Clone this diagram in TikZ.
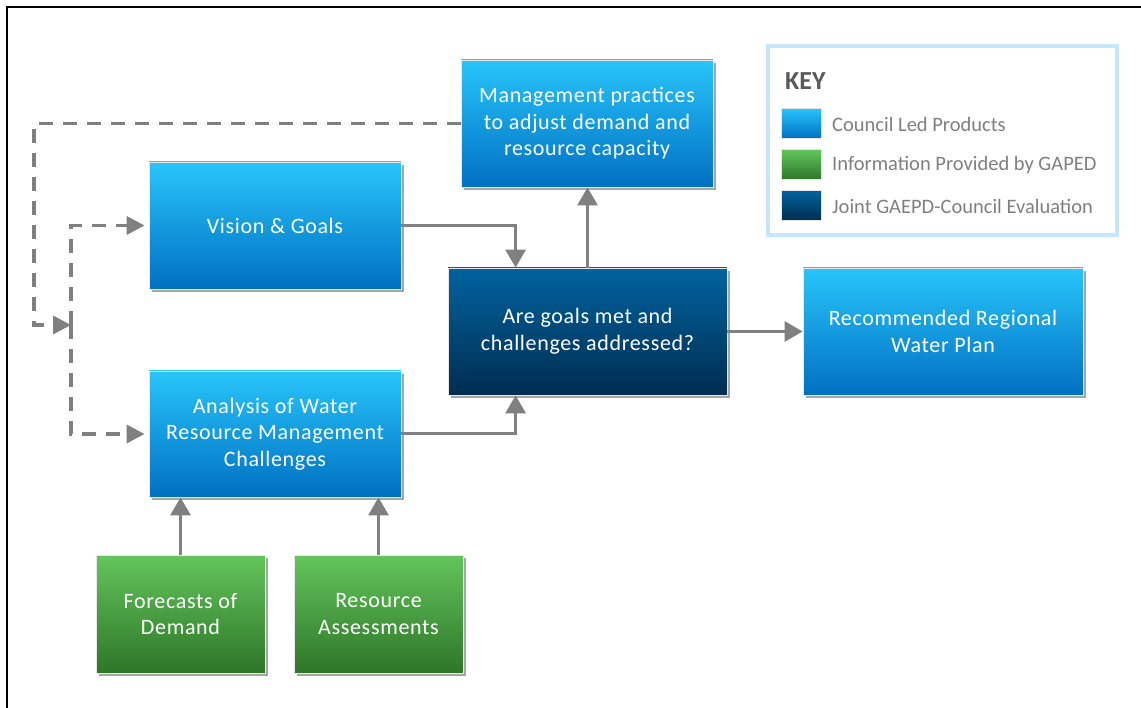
\documentclass[tikz,border=0pt]{standalone}
\usepackage{fontspec}
\setmainfont{Carlito}
\newfontfamily\boxfont[LetterSpace=3]{Carlito}
\usetikzlibrary{arrows.meta,shadows,calc}
\definecolor{lbTop}{HTML}{28C5FA}
\definecolor{lbBot}{HTML}{0070C2}
\definecolor{gnTop}{HTML}{63C55B}
\definecolor{gnBot}{HTML}{2E7628}
\definecolor{dkTop}{HTML}{00639F}
\definecolor{dkBot}{HTML}{002D50}
\definecolor{arrGray}{HTML}{808080}
\definecolor{keyFrame}{HTML}{C6E7FA}
\definecolor{keyText}{HTML}{7F7F7F}
\definecolor{keyHead}{HTML}{595959}
\tikzset{
  boxbase/.style={draw=white!82!gray, line width=0.8pt, text=white, align=center,
    font=\boxfont\fontsize{22}{26.5}\selectfont, inner sep=0pt,
    drop shadow={shadow xshift=2.5pt, shadow yshift=-3pt, opacity=0.35, fill=black}},
  council/.style={boxbase, top color=lbTop, bottom color=lbBot},
  info/.style={boxbase, top color=gnTop, bottom color=gnBot},
  joint/.style={boxbase, top color=dkTop, bottom color=dkBot},
  arr/.style={draw=arrGray, line width=3pt, -{Triangle[width=20pt,length=18pt]}},
  darr/.style={draw=arrGray, line width=3.5pt, dash pattern=on 14pt off 10pt,
    -{Triangle[width=18pt,length=18pt]}},
  swatch/.style={draw=white!80!gray, line width=0.6pt, minimum width=40pt, minimum height=30pt, inner sep=0pt},
  keylabel/.style={text=keyText, anchor=west, font=\fontsize{20.5}{22}\selectfont, inner sep=0pt}
}
\begin{document}
\begin{tikzpicture}[x=1pt,y=-1pt]
\useasboundingbox (0,0) rectangle (1141,708);
% frame
\draw[black, line width=2pt] (7,708) -- (7,7) -- (1141,7);
% boxes
\node[council, minimum width=252pt, minimum height=127pt] (mgmt) at (587,123.5)
  {Management practices\\to adjust demand and\\resource capacity};
\node[council, minimum width=252pt, minimum height=127pt] (vision) at (275,225.5)
  {Vision \& Goals};
\node[council, minimum width=252pt, minimum height=126pt] (analysis) at (275,434)
  {Analysis of Water\\Resource Management\\Challenges};
\node[joint, minimum width=279pt, minimum height=127pt] (are) at (587.5,331.5)
  {Are goals met and\\challenges addressed?};
\node[council, minimum width=280pt, minimum height=127pt] (rec) at (943,331.5)
  {Recommended Regional\\Water Plan};
\node[info, minimum width=169pt, minimum height=118pt] (fore) at (180.5,614)
  {Forecasts of\\Demand};
\node[info, minimum width=169pt, minimum height=118pt] (resa) at (378.5,614)
  {Resource\\Assessments};
% key
\draw[keyFrame, line width=3.5pt] (768,46) rectangle (1117,235);
\node[text=keyHead, anchor=west, inner sep=0pt, font=\fontsize{26}{28}\selectfont\bfseries] (keyhead) at (785,81) {KEY};
\node[swatch, top color=lbTop, bottom color=lbBot] (sw1) at (801,123.5) {};
\node[swatch, top color=gnTop, bottom color=gnBot] (sw2) at (801,164.5) {};
\node[swatch, top color=dkTop, bottom color=dkBot] (sw3) at (801,205.5) {};
\node[keylabel] (k1) at (832,124.5) {Council Led Products};
\node[keylabel] (k2) at (832,165.5) {Information Provided by GAPED};
\node[keylabel] (k3) at (832,206.5) {Joint GAEPD-Council Evaluation};
% solid connectors
\draw[arr] (vision.east) -| ([xshift=68pt]are.north west);
\draw[arr] (analysis.east) -| ([xshift=68pt]are.south west);
\draw[arr] (are.north) -- (are.north |- mgmt.south);
\draw[arr] (are.east) -- (rec.west);
\draw[arr] (fore.north) -- (fore.north |- analysis.south);
\draw[arr] (resa.north) -- (resa.north |- analysis.south);
% dashed loop
\coordinate (loopL) at (34,325);
\coordinate (split) at (71,325);
\draw[darr] (mgmt.west) -| (loopL) -- (split);
\draw[darr, shorten >=4pt] (split) |- (vision.west);
\draw[darr, shorten >=4pt] (split) |- (analysis.west);
\end{tikzpicture}
\end{document}
